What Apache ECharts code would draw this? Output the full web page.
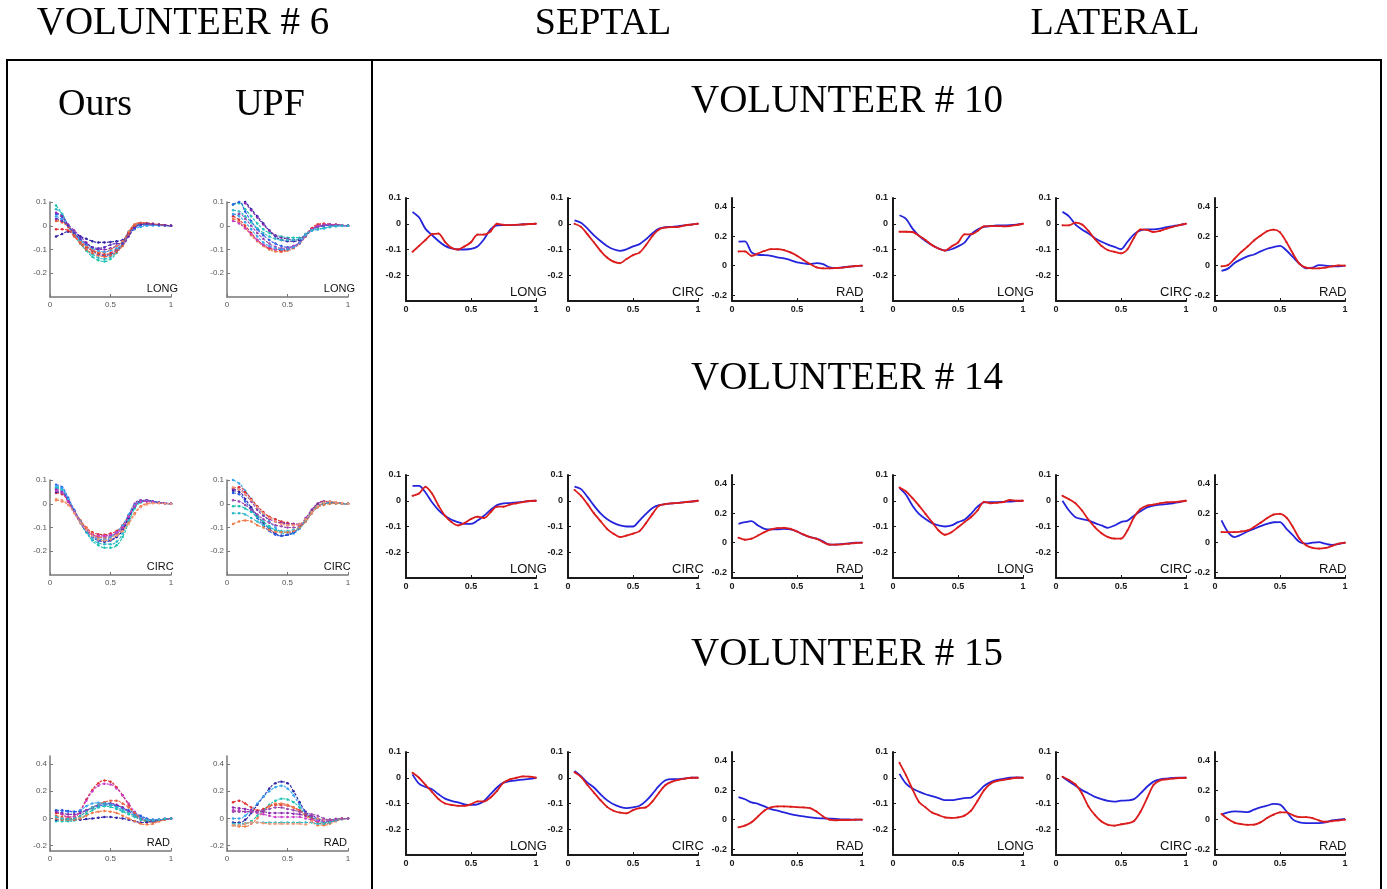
<!DOCTYPE html>
<html><head><meta charset="utf-8">
<script src="https://cdn.jsdelivr.net/npm/echarts@6/dist/echarts.min.js"></script>
<style>html,body{margin:0;padding:0;background:#fff}#c{width:1387px;height:889px}</style>
</head><body><div id="c"></div>
<script>
// ---------------- DATA ----------------
const xs = [0.05,0.10,0.15,0.20,0.25,0.30,0.35,0.40,0.45,0.50,0.55,0.60,0.65,0.70,0.75,0.80,0.85,0.90,0.95,1.00];
const xTicks = [0, 0.5, 1];
const strainTicks = [-0.2, -0.1, 0, 0.1];
const radTicks = [-0.2, 0, 0.2, 0.4];

// Volunteer 10
const v10_sep_long_red  = [-0.109,-0.086,-0.063,-0.040,-0.038,-0.070,-0.093,-0.100,-0.088,-0.072,-0.042,-0.042,-0.030,0.000,-0.004,-0.005,-0.004,-0.003,-0.001,0];
const v10_sep_long_blue = [0.046,0.025,-0.020,-0.044,-0.067,-0.086,-0.096,-0.100,-0.100,-0.098,-0.088,-0.060,-0.022,-0.006,-0.005,-0.005,-0.004,-0.002,-0.001,0];
const v10_sep_circ_red  = [0.000,-0.012,-0.041,-0.073,-0.105,-0.131,-0.147,-0.153,-0.137,-0.122,-0.112,-0.083,-0.047,-0.022,-0.015,-0.013,-0.012,-0.006,-0.003,0];
const v10_sep_circ_blue = [0.013,0.004,-0.019,-0.045,-0.067,-0.086,-0.099,-0.105,-0.099,-0.088,-0.079,-0.060,-0.037,-0.019,-0.013,-0.012,-0.009,-0.006,-0.003,0];
const v10_sep_rad_red   = [0.097,0.097,0.067,0.083,0.100,0.112,0.112,0.106,0.090,0.067,0.038,0.011,-0.011,-0.018,-0.018,-0.016,-0.013,-0.007,-0.002,0];
const v10_sep_rad_blue  = [0.164,0.165,0.090,0.074,0.072,0.067,0.056,0.049,0.038,0.022,0.016,0.011,0.018,0.011,-0.011,-0.016,-0.011,-0.007,-0.002,0];
const v10_lat_long_red  = [-0.031,-0.031,-0.032,-0.047,-0.063,-0.083,-0.096,-0.104,-0.088,-0.073,-0.041,-0.041,-0.028,-0.010,-0.009,-0.009,-0.010,-0.009,-0.005,0];
const v10_lat_long_blue = [0.033,0.019,-0.019,-0.047,-0.067,-0.083,-0.096,-0.104,-0.099,-0.088,-0.073,-0.041,-0.022,-0.012,-0.009,-0.006,-0.006,-0.005,-0.003,0];
const v10_lat_circ_red  = [-0.006,-0.006,0.004,-0.003,-0.028,-0.060,-0.086,-0.103,-0.109,-0.115,-0.099,-0.054,-0.022,-0.024,-0.032,-0.028,-0.019,-0.012,-0.005,0];
const v10_lat_circ_blue = [0.046,0.029,-0.003,-0.022,-0.038,-0.056,-0.070,-0.081,-0.090,-0.099,-0.070,-0.041,-0.026,-0.022,-0.022,-0.019,-0.013,-0.009,-0.005,0];
const v10_lat_rad_red   = [-0.004,0.004,0.047,0.092,0.130,0.171,0.204,0.234,0.245,0.227,0.160,0.081,0.013,-0.013,-0.018,-0.018,-0.013,-0.004,0.002,0];
const v10_lat_rad_blue  = [-0.036,-0.020,0.018,0.043,0.063,0.076,0.097,0.115,0.126,0.135,0.103,0.058,0.013,-0.018,-0.013,0.004,0.000,-0.004,-0.004,0];

// Volunteer 14
const v14_sep_long_red  = [0.019,0.028,0.054,0.028,-0.019,-0.058,-0.083,-0.096,-0.087,-0.071,-0.062,-0.067,-0.045,-0.023,-0.023,-0.015,-0.010,-0.005,-0.001,0];
const v14_sep_long_blue = [0.058,0.058,0.032,-0.006,-0.036,-0.058,-0.074,-0.083,-0.090,-0.090,-0.077,-0.058,-0.036,-0.017,-0.010,-0.009,-0.006,-0.004,-0.001,0];
const v14_sep_circ_red  = [0.042,0.019,-0.013,-0.049,-0.079,-0.109,-0.128,-0.141,-0.135,-0.128,-0.118,-0.087,-0.051,-0.019,-0.013,-0.010,-0.009,-0.005,-0.003,0];
const v14_sep_circ_blue = [0.055,0.045,0.015,-0.019,-0.049,-0.071,-0.086,-0.096,-0.100,-0.100,-0.077,-0.051,-0.028,-0.017,-0.013,-0.010,-0.008,-0.005,-0.003,0];
const v14_sep_rad_red   = [0.034,0.020,0.027,0.049,0.072,0.090,0.099,0.101,0.094,0.076,0.056,0.038,0.027,0.004,-0.013,-0.013,-0.011,-0.007,-0.002,0];
const v14_sep_rad_blue  = [0.128,0.139,0.146,0.117,0.094,0.090,0.090,0.094,0.090,0.076,0.054,0.038,0.027,0.009,-0.013,-0.013,-0.009,-0.004,0.000,0];
const v14_lat_long_red  = [0.051,0.036,0.010,-0.019,-0.051,-0.083,-0.115,-0.132,-0.122,-0.103,-0.083,-0.064,-0.038,-0.004,-0.010,-0.008,-0.005,0.003,0.000,0];
const v14_lat_long_blue = [0.049,0.023,-0.019,-0.051,-0.071,-0.087,-0.096,-0.100,-0.096,-0.083,-0.074,-0.051,-0.023,-0.006,-0.005,-0.005,-0.004,-0.003,-0.001,0];
const v14_lat_circ_red  = [0.019,0.006,-0.010,-0.038,-0.074,-0.103,-0.126,-0.141,-0.147,-0.147,-0.115,-0.064,-0.032,-0.019,-0.015,-0.010,-0.006,-0.005,-0.003,0];
const v14_lat_circ_blue = [0.000,-0.038,-0.064,-0.071,-0.077,-0.087,-0.096,-0.105,-0.096,-0.083,-0.077,-0.058,-0.041,-0.026,-0.019,-0.015,-0.013,-0.010,-0.005,0];
const v14_lat_rad_red   = [0.072,0.072,0.072,0.076,0.083,0.106,0.135,0.166,0.191,0.196,0.170,0.105,0.027,-0.018,-0.035,-0.040,-0.036,-0.022,-0.007,0];
const v14_lat_rad_blue  = [0.151,0.072,0.038,0.054,0.076,0.094,0.112,0.128,0.139,0.140,0.094,0.049,0.004,-0.007,0.000,0.004,-0.007,-0.015,-0.010,0];

// Volunteer 15
const v15_sep_long_red  = [0.019,0.000,-0.028,-0.055,-0.083,-0.100,-0.105,-0.109,-0.109,-0.103,-0.092,-0.092,-0.077,-0.051,-0.019,-0.006,0.000,0.005,0.004,0];
const v15_sep_long_blue = [0.013,-0.023,-0.036,-0.045,-0.064,-0.081,-0.090,-0.096,-0.103,-0.105,-0.103,-0.090,-0.064,-0.038,-0.019,-0.013,-0.010,-0.007,-0.004,0];
const v15_sep_circ_red  = [0.021,0.003,-0.028,-0.058,-0.087,-0.113,-0.128,-0.135,-0.138,-0.126,-0.118,-0.115,-0.092,-0.058,-0.028,-0.015,-0.008,-0.003,0.000,0];
const v15_sep_circ_blue = [0.026,0.006,-0.019,-0.038,-0.064,-0.087,-0.103,-0.113,-0.118,-0.115,-0.109,-0.090,-0.062,-0.032,-0.010,-0.005,-0.005,-0.003,0.000,0];
const v15_sep_rad_red   = [-0.052,-0.040,-0.018,0.022,0.063,0.083,0.090,0.090,0.088,0.085,0.083,0.079,0.056,0.022,0.000,-0.004,-0.002,-0.002,0.000,0];
const v15_sep_rad_blue  = [0.153,0.139,0.117,0.108,0.090,0.072,0.061,0.049,0.038,0.029,0.022,0.016,0.011,0.009,0.007,0.005,0.002,0.002,0.000,0];
const v15_lat_long_red  = [0.058,0.010,-0.045,-0.094,-0.115,-0.135,-0.145,-0.154,-0.156,-0.154,-0.147,-0.128,-0.090,-0.049,-0.023,-0.013,-0.008,-0.004,0.000,0];
const v15_lat_long_blue = [0.015,-0.023,-0.042,-0.054,-0.064,-0.071,-0.079,-0.087,-0.087,-0.083,-0.079,-0.077,-0.058,-0.032,-0.017,-0.008,-0.004,0.000,0.001,0];
const v15_lat_circ_red  = [0.004,-0.009,-0.026,-0.061,-0.112,-0.145,-0.170,-0.183,-0.186,-0.181,-0.177,-0.168,-0.132,-0.080,-0.028,-0.010,-0.006,-0.003,-0.001,0];
const v15_lat_circ_blue = [0.004,-0.015,-0.031,-0.048,-0.061,-0.074,-0.083,-0.090,-0.093,-0.089,-0.088,-0.083,-0.061,-0.035,-0.015,-0.006,-0.003,-0.001,0.000,0];
const v15_lat_rad_red   = [0.039,0.005,-0.020,-0.030,-0.035,-0.034,-0.018,0.011,0.034,0.050,0.050,0.030,0.018,0.018,0.011,-0.005,-0.014,-0.010,-0.005,0];
const v15_lat_rad_blue  = [0.034,0.050,0.057,0.055,0.052,0.068,0.084,0.095,0.107,0.102,0.057,0.000,-0.018,-0.023,-0.023,-0.023,-0.018,-0.005,0.000,0.005];

// Volunteer 6 (one curve per segment)
const v6_ours_long = [
  [0.085,0.050,0.000,-0.040,-0.075,-0.105,-0.130,-0.145,-0.150,-0.140,-0.115,-0.075,-0.030,0.000,0.008,0.008,0.005,0.003,0.001,0],
  [0.070,0.050,0.000,-0.035,-0.070,-0.100,-0.120,-0.135,-0.140,-0.130,-0.110,-0.070,-0.025,0.000,0.005,0.005,0.004,0.002,0.001,0],
  [0.050,0.035,0.000,-0.030,-0.060,-0.085,-0.105,-0.120,-0.125,-0.120,-0.105,-0.080,-0.040,-0.010,0.000,0.003,0.003,0.002,0.001,0],
  [0.055,0.040,0.005,-0.020,-0.045,-0.070,-0.090,-0.100,-0.100,-0.095,-0.085,-0.070,-0.030,0.000,0.010,0.010,0.008,0.005,0.002,0],
  [-0.045,-0.035,-0.025,-0.030,-0.045,-0.055,-0.065,-0.070,-0.070,-0.068,-0.065,-0.060,-0.030,-0.005,0.005,0.008,0.006,0.004,0.002,0],
  [-0.015,-0.015,-0.020,-0.045,-0.070,-0.090,-0.105,-0.115,-0.120,-0.115,-0.100,-0.075,-0.030,0.005,0.012,0.010,0.007,0.004,0.002,0],
  [0.025,0.015,-0.005,-0.040,-0.065,-0.085,-0.100,-0.110,-0.112,-0.100,-0.085,-0.065,-0.025,0.005,0.010,0.008,0.006,0.004,0.002,0],
  [0.040,0.025,-0.005,-0.035,-0.060,-0.080,-0.095,-0.105,-0.110,-0.105,-0.095,-0.075,-0.040,-0.015,-0.005,0.000,0.001,0.001,0.000,0],
  [0.020,0.015,-0.005,-0.040,-0.075,-0.100,-0.115,-0.125,-0.130,-0.125,-0.110,-0.085,-0.040,0.000,0.012,0.012,0.008,0.005,0.002,0],
  [0.030,0.020,0.000,-0.030,-0.055,-0.075,-0.090,-0.095,-0.090,-0.080,-0.075,-0.075,-0.045,-0.010,0.005,0.008,0.006,0.004,0.002,0]
];
const v6_upf_long = [
  [0.090,0.095,0.070,0.040,0.010,-0.015,-0.030,-0.040,-0.045,-0.050,-0.050,-0.050,-0.040,-0.020,-0.015,-0.010,-0.005,0.000,0.000,0],
  [0.140,0.120,0.100,0.070,0.040,0.010,-0.020,-0.045,-0.060,-0.065,-0.065,-0.060,-0.040,-0.015,-0.005,0.000,0.003,0.002,0.001,0],
  [0.130,0.115,0.095,0.065,0.035,0.005,-0.020,-0.040,-0.050,-0.055,-0.060,-0.055,-0.035,-0.015,-0.005,0.002,0.004,0.003,0.001,0],
  [0.090,0.100,0.060,0.020,-0.015,-0.040,-0.060,-0.075,-0.085,-0.090,-0.085,-0.070,-0.040,-0.015,-0.005,0.000,0.002,0.002,0.001,0],
  [0.030,0.015,-0.010,-0.040,-0.065,-0.085,-0.100,-0.108,-0.110,-0.105,-0.095,-0.075,-0.045,-0.015,0.005,0.008,0.006,0.004,0.002,0],
  [0.040,0.025,0.000,-0.030,-0.060,-0.080,-0.095,-0.100,-0.105,-0.100,-0.090,-0.070,-0.040,-0.010,0.005,0.008,0.006,0.004,0.002,0],
  [0.020,0.010,-0.010,-0.035,-0.060,-0.080,-0.090,-0.100,-0.100,-0.095,-0.085,-0.070,-0.040,-0.015,0.000,0.005,0.006,0.004,0.002,0],
  [0.045,0.050,0.030,0.000,-0.030,-0.055,-0.075,-0.088,-0.095,-0.095,-0.090,-0.075,-0.045,-0.020,-0.005,0.002,0.005,0.004,0.002,0],
  [0.050,0.040,0.015,-0.015,-0.045,-0.070,-0.085,-0.095,-0.100,-0.100,-0.090,-0.070,-0.040,-0.020,-0.015,-0.010,-0.005,-0.002,0.000,0],
  [0.065,0.060,0.040,0.015,-0.010,-0.030,-0.045,-0.055,-0.060,-0.060,-0.060,-0.055,-0.035,-0.020,-0.015,-0.010,-0.005,-0.002,0.000,0]
];
const v6_ours_circ = [
  [0.070,0.060,0.020,-0.030,-0.080,-0.120,-0.155,-0.175,-0.185,-0.185,-0.175,-0.140,-0.080,-0.020,0.005,0.010,0.008,0.005,0.002,0],
  [0.065,0.055,0.015,-0.035,-0.080,-0.120,-0.150,-0.165,-0.170,-0.170,-0.160,-0.125,-0.070,-0.015,0.008,0.012,0.008,0.005,0.002,0],
  [0.080,0.070,0.025,-0.025,-0.070,-0.110,-0.135,-0.150,-0.155,-0.150,-0.140,-0.110,-0.060,-0.010,0.012,0.015,0.010,0.005,0.002,0],
  [0.060,0.050,0.015,-0.030,-0.075,-0.110,-0.130,-0.140,-0.140,-0.135,-0.125,-0.100,-0.050,0.000,0.015,0.015,0.010,0.005,0.002,0],
  [0.045,0.040,0.010,-0.030,-0.070,-0.100,-0.120,-0.128,-0.130,-0.125,-0.115,-0.090,-0.050,-0.010,0.008,0.012,0.008,0.005,0.002,0],
  [0.015,0.010,-0.005,-0.035,-0.070,-0.100,-0.125,-0.140,-0.145,-0.140,-0.130,-0.110,-0.080,-0.040,-0.010,0.000,0.003,0.003,0.001,0],
  [0.050,0.045,0.010,-0.035,-0.080,-0.115,-0.140,-0.155,-0.160,-0.155,-0.140,-0.110,-0.060,-0.010,0.010,0.012,0.008,0.005,0.002,0],
  [0.075,0.065,0.020,-0.030,-0.075,-0.115,-0.140,-0.150,-0.150,-0.140,-0.120,-0.090,-0.045,-0.005,0.010,0.012,0.008,0.005,0.002,0],
  [0.055,0.045,0.010,-0.035,-0.080,-0.110,-0.130,-0.135,-0.135,-0.130,-0.120,-0.100,-0.055,-0.010,0.008,0.010,0.007,0.004,0.002,0],
  [0.020,0.015,-0.005,-0.040,-0.080,-0.110,-0.135,-0.150,-0.155,-0.150,-0.135,-0.115,-0.085,-0.045,-0.015,-0.003,0.002,0.002,0.001,0]
];
const v6_upf_circ = [
  [0.100,0.085,0.055,0.020,-0.015,-0.045,-0.075,-0.100,-0.120,-0.130,-0.125,-0.105,-0.070,-0.030,0.000,0.010,0.008,0.005,0.002,0],
  [0.065,0.070,0.050,0.020,-0.010,-0.035,-0.055,-0.065,-0.075,-0.080,-0.085,-0.090,-0.070,-0.030,0.000,0.010,0.008,0.005,0.002,0],
  [0.060,0.060,0.040,0.010,-0.025,-0.050,-0.065,-0.075,-0.080,-0.085,-0.085,-0.085,-0.060,-0.025,0.000,0.008,0.007,0.004,0.002,0],
  [0.055,0.050,0.020,-0.015,-0.050,-0.080,-0.105,-0.125,-0.135,-0.130,-0.120,-0.100,-0.070,-0.035,-0.010,0.000,0.003,0.003,0.001,0],
  [0.045,0.040,0.010,-0.025,-0.060,-0.090,-0.115,-0.130,-0.135,-0.130,-0.120,-0.100,-0.070,-0.035,-0.010,-0.002,0.002,0.002,0.001,0],
  [0.015,0.010,-0.005,-0.025,-0.045,-0.065,-0.080,-0.090,-0.095,-0.100,-0.100,-0.095,-0.075,-0.040,-0.010,0.000,0.003,0.003,0.001,0],
  [-0.010,-0.010,-0.020,-0.035,-0.055,-0.075,-0.095,-0.110,-0.120,-0.120,-0.115,-0.100,-0.070,-0.035,-0.010,0.000,0.003,0.002,0.001,0],
  [-0.040,-0.040,-0.045,-0.060,-0.075,-0.090,-0.100,-0.110,-0.115,-0.115,-0.110,-0.100,-0.075,-0.040,-0.015,-0.002,0.002,0.002,0.001,0],
  [-0.085,-0.075,-0.070,-0.075,-0.090,-0.100,-0.110,-0.118,-0.120,-0.120,-0.115,-0.100,-0.075,-0.040,-0.015,-0.005,0.000,0.001,0.000,0],
  [0.070,0.060,0.040,0.015,-0.015,-0.040,-0.060,-0.075,-0.085,-0.090,-0.090,-0.085,-0.065,-0.035,-0.010,0.005,0.010,0.006,0.003,0]
];
const v6_ours_rad = [
  [0.040,0.030,0.010,0.010,0.060,0.140,0.210,0.260,0.280,0.270,0.230,0.170,0.100,0.040,0.000,-0.020,-0.020,-0.015,-0.005,0],
  [0.050,0.030,0.010,0.015,0.060,0.130,0.200,0.240,0.255,0.250,0.220,0.170,0.110,0.050,0.010,-0.010,-0.020,-0.015,-0.005,0],
  [0.060,0.055,0.050,0.050,0.060,0.090,0.110,0.115,0.115,0.110,0.090,0.070,0.050,0.030,0.010,-0.005,-0.010,-0.010,-0.005,0],
  [0.060,0.060,0.055,0.050,0.050,0.060,0.075,0.090,0.100,0.100,0.095,0.080,0.060,0.040,0.020,0.000,-0.010,-0.010,-0.005,0],
  [0.020,0.010,0.000,0.000,0.020,0.050,0.080,0.100,0.120,0.130,0.130,0.110,0.080,0.040,0.000,-0.020,-0.030,-0.020,-0.010,0],
  [-0.020,-0.020,-0.020,-0.015,0.000,0.030,0.060,0.080,0.090,0.085,0.070,0.050,0.030,0.010,-0.010,-0.020,-0.020,-0.015,-0.005,0],
  [-0.010,-0.010,-0.010,-0.010,-0.010,-0.005,0.000,0.005,0.010,0.010,0.005,0.000,-0.010,-0.020,-0.030,-0.030,-0.020,-0.015,-0.005,0],
  [0.000,-0.010,-0.010,-0.010,0.000,0.020,0.040,0.050,0.055,0.050,0.040,0.020,0.000,-0.020,-0.040,-0.045,-0.040,-0.020,-0.010,0],
  [0.050,0.040,0.030,0.030,0.040,0.060,0.080,0.100,0.110,0.110,0.100,0.080,0.050,0.020,0.000,-0.010,-0.015,-0.010,-0.005,0],
  [0.010,0.000,-0.005,0.000,0.020,0.050,0.080,0.100,0.110,0.100,0.080,0.060,0.040,0.020,0.000,-0.010,-0.015,-0.010,-0.005,0]
];
const v6_upf_rad = [
  [-0.030,-0.030,-0.010,0.040,0.100,0.160,0.220,0.260,0.270,0.260,0.200,0.120,0.050,0.010,-0.010,-0.020,-0.020,-0.015,-0.005,0],
  [0.000,0.000,0.020,0.060,0.110,0.160,0.200,0.230,0.240,0.220,0.170,0.100,0.040,0.010,0.000,-0.010,-0.010,-0.005,0.000,0],
  [-0.050,-0.050,-0.040,-0.020,0.020,0.060,0.100,0.130,0.145,0.140,0.120,0.080,0.030,0.000,-0.020,-0.030,-0.020,-0.010,-0.005,0],
  [0.120,0.130,0.110,0.080,0.060,0.070,0.090,0.100,0.100,0.095,0.080,0.060,0.030,0.000,-0.030,-0.040,-0.030,-0.015,-0.005,0],
  [-0.050,-0.060,-0.060,-0.040,0.000,0.050,0.090,0.110,0.110,0.100,0.080,0.050,0.020,-0.020,-0.050,-0.050,-0.040,-0.020,-0.005,0],
  [0.080,0.075,0.070,0.060,0.050,0.050,0.040,0.040,0.040,0.040,0.035,0.030,0.020,0.020,0.000,-0.010,-0.010,-0.005,0.000,0],
  [0.060,0.060,0.050,0.050,0.040,0.030,0.020,0.010,0.010,0.010,0.010,0.010,0.000,-0.010,-0.020,-0.020,-0.015,-0.010,0.000,0],
  [-0.040,-0.040,-0.035,-0.030,-0.030,-0.030,-0.030,-0.030,-0.030,-0.030,-0.030,-0.030,-0.030,-0.030,-0.040,-0.040,-0.030,-0.015,-0.005,0],
  [-0.050,-0.050,-0.040,-0.030,-0.030,-0.035,-0.040,-0.040,-0.040,-0.040,-0.040,-0.040,-0.045,-0.020,0.000,-0.010,-0.010,-0.005,0.000,0],
  [0.050,0.050,0.050,0.050,0.050,0.060,0.070,0.080,0.080,0.070,0.060,0.050,0.040,0.030,0.020,0.000,-0.010,-0.005,0.000,0]
];

// ---------------- STYLE / LAYOUT ----------------
const RED = '#dc1c1c', BLUE = '#2424dc';
const P = { teal:'#1cc2b0', teal2:'#2cb8c8', blue:'#2a5ee8', dblue:'#2e22a8', purple:'#8a2cb0', magenta:'#c83cc8',
            red:'#e02e2e', red2:'#e8583a', orange:'#f07a48', orange2:'#f59a78', lblue:'#38a6f0', indigo:'#5a30c0', purple2:'#9a48b0' };
const colOursLong = [P.teal,P.teal2,P.blue,P.purple,P.dblue,P.red,P.orange,P.lblue,P.red2,P.indigo];
const colUpfLong  = [P.teal,P.dblue,P.purple,P.blue,P.orange,P.red,P.magenta,P.purple2,P.lblue,P.teal2];
const colOursCirc = [P.teal,P.teal2,P.blue,P.purple,P.red,P.orange,P.dblue,P.lblue,P.magenta,P.orange2];
const colUpfCirc  = [P.lblue,P.red,P.purple,P.dblue,P.blue,P.purple2,P.teal,P.teal2,P.orange,P.orange2];
const colOursRad  = [P.red,P.magenta,P.lblue,P.blue,P.red2,P.teal,P.dblue,P.orange,P.purple,P.teal2];
const colUpfRad   = [P.dblue,P.lblue,P.teal,P.red,P.orange,P.purple,P.magenta,P.teal2,P.orange2,P.purple2];

const rightCols = [406, 568, 732, 893, 1056, 1215];
const rightRows = [198, 475, 752];
const RW = 130, RH = 103;
const leftCols = [50, 227];
const leftRows = [202, 480, 756];
const LW = 121, LH = 95;

const grids = [], xAxes = [], yAxes = [], series = [], graphics = [];
const fmt = v => { const r = Math.round(v * 10) / 10; return r === 0 ? '0' : String(r); };

function addPanel(left, top, w, h, kind, lines, isLeft) {
  const i = grids.length;
  const rad = kind === 'RAD';
  const axisColor = isLeft ? '#777' : '#1a1a1a';
  const lblColor = isLeft ? '#555' : '#1a1a1a';
  const aw = isLeft ? 1.5 : 2;
  const fs = isLeft ? 8 : 9;
  grids.push({ left, top, width: w, height: h, containLabel: false });
  xAxes.push({
    gridIndex: i, type: 'value', min: 0, max: 1,
    axisLine: { show: true, onZero: false, lineStyle: { color: axisColor, width: aw } },
    axisTick: { show: true, inside: true, length: 3, customValues: xTicks, lineStyle: { color: axisColor, width: 1 } },
    axisLabel: { customValues: xTicks, formatter: fmt, fontSize: fs, fontWeight: isLeft ? 'normal' : 'bold', color: lblColor, margin: 4, fontFamily: 'Liberation Sans' },
    splitLine: { show: false }
  });
  const ticks = rad ? radTicks : strainTicks;
  yAxes.push({
    gridIndex: i, type: 'value', min: rad ? -0.24 : -0.3, max: rad ? 0.46 : 0.1,
    axisLine: { show: true, onZero: false, lineStyle: { color: axisColor, width: aw } },
    axisTick: { show: true, inside: true, length: 3, customValues: ticks, lineStyle: { color: axisColor, width: 1 } },
    axisLabel: { customValues: ticks, formatter: fmt, fontSize: fs, fontWeight: isLeft ? 'normal' : 'bold', color: lblColor, margin: isLeft ? 3 : 5, fontFamily: 'Liberation Sans' },
    splitLine: { show: false }
  });
  lines.forEach(l => {
    series.push({
      type: 'line', xAxisIndex: i, yAxisIndex: i, smooth: isLeft ? 0.5 : 0.3,
      data: xs.map((x, k) => [x, l.values[k]]),
      showSymbol: l.dots, symbol: 'circle', symbolSize: l.sym,
      itemStyle: { color: l.color }, lineStyle: { color: l.color, width: l.width, type: l.type || 'solid' },
      silent: true, z: l.z || 2
    });
  });
  graphics.push({
    type: 'text', style: {
      text: kind, x: left + 0.8 * w, y: top + h - 8.5,
      align: 'left', verticalAlign: 'middle',
      font: (isLeft ? '11px' : '13px') + ' "Liberation Sans", Arial, sans-serif', fill: '#111'
    }
  });
}

const pair = (red, blue) => [
  { values: blue, color: BLUE, width: 1.8, dots: false, sym: 0, z: 2 },
  { values: red, color: RED, width: 1.8, dots: true, sym: 2, z: 3 }
];
const multi = (arr, cols) => arr.map((v, k) => ({ values: v, color: cols[k], width: 1.1, dots: true, sym: 2.5, type: [3, 1.5] }));

// right block
const rightData = [
  [[v10_sep_long_red, v10_sep_long_blue], [v10_sep_circ_red, v10_sep_circ_blue], [v10_sep_rad_red, v10_sep_rad_blue],
   [v10_lat_long_red, v10_lat_long_blue], [v10_lat_circ_red, v10_lat_circ_blue], [v10_lat_rad_red, v10_lat_rad_blue]],
  [[v14_sep_long_red, v14_sep_long_blue], [v14_sep_circ_red, v14_sep_circ_blue], [v14_sep_rad_red, v14_sep_rad_blue],
   [v14_lat_long_red, v14_lat_long_blue], [v14_lat_circ_red, v14_lat_circ_blue], [v14_lat_rad_red, v14_lat_rad_blue]],
  [[v15_sep_long_red, v15_sep_long_blue], [v15_sep_circ_red, v15_sep_circ_blue], [v15_sep_rad_red, v15_sep_rad_blue],
   [v15_lat_long_red, v15_lat_long_blue], [v15_lat_circ_red, v15_lat_circ_blue], [v15_lat_rad_red, v15_lat_rad_blue]]
];
const kinds = ['LONG', 'CIRC', 'RAD', 'LONG', 'CIRC', 'RAD'];
rightData.forEach((row, r) => row.forEach((p, c) => addPanel(rightCols[c], rightRows[r], RW, RH, kinds[c], pair(p[0], p[1]), false)));

// left block
const leftData = [[v6_ours_long, v6_upf_long], [v6_ours_circ, v6_upf_circ], [v6_ours_rad, v6_upf_rad]];
const leftCols2 = [[colOursLong, colUpfLong], [colOursCirc, colUpfCirc], [colOursRad, colUpfRad]];
const leftKinds = ['LONG', 'CIRC', 'RAD'];
leftData.forEach((row, r) => row.forEach((set, c) => addPanel(leftCols[c], leftRows[r], LW, LH, leftKinds[r], multi(set, leftCols2[r][c]), true)));

// frames and headings
const serif = '"Liberation Serif", "Times New Roman", serif';
const heading = (text, x, y, size) => ({ type: 'text', style: { text, x, y, align: 'center', verticalAlign: 'middle', font: size + 'px ' + serif, fill: '#000' } });
graphics.push(
  { type: 'rect', shape: { x: 7, y: 60, width: 1374, height: 860 }, style: { fill: 'none', stroke: '#000', lineWidth: 2 } },
  { type: 'line', shape: { x1: 372, y1: 60, x2: 372, y2: 889 }, style: { stroke: '#000', lineWidth: 2 } },
  heading('VOLUNTEER # 6', 183, 24, 39),
  heading('SEPTAL', 603, 24, 38),
  heading('LATERAL', 1115, 24, 38),
  heading('Ours', 95, 105, 38),
  heading('UPF', 270, 105, 38),
  heading('VOLUNTEER # 10', 847, 102, 39),
  heading('VOLUNTEER # 14', 847, 379, 39),
  heading('VOLUNTEER # 15', 847, 655, 39)
);

const chart = echarts.init(document.getElementById('c'), null, { renderer: 'canvas' });
chart.setOption({
  backgroundColor: '#fff',
  animation: false,
  grid: grids, xAxis: xAxes, yAxis: yAxes, series,
  graphic: graphics
});
</script></body></html>
